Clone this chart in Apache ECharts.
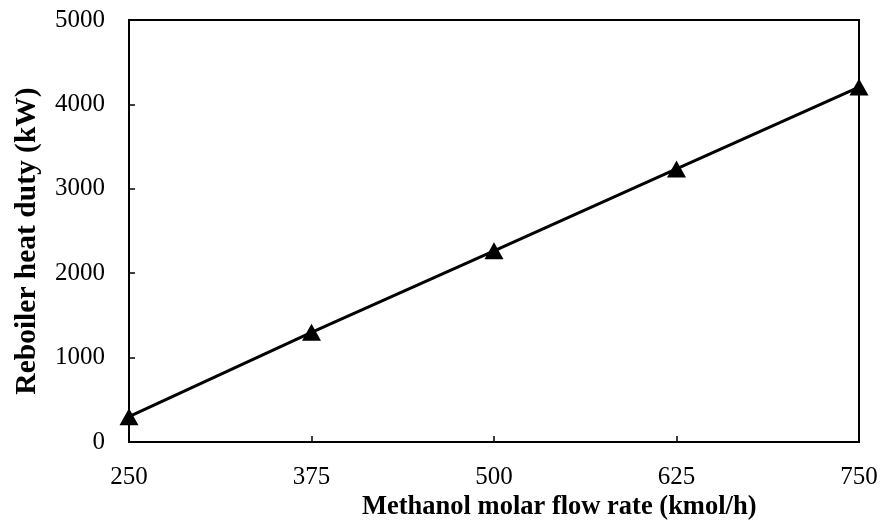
<!DOCTYPE html>
<html><head><meta charset="utf-8">
<script src="https://cdn.jsdelivr.net/npm/echarts@6/dist/echarts.min.js"></script>
<style>html,body{margin:0;padding:0;background:#fff}#c{width:884px;height:525px}</style>
</head><body><div id="c"></div>
<script>
const flowRates = [250, 375, 500, 625, 750];
const heatDuty = [300, 1300, 2265, 3235, 4205];
const xTicks = [250, 375, 500, 625, 750];
const yTicks = [0, 1000, 2000, 3000, 4000, 5000];
const xTitle = 'Methanol molar flow rate (kmol/h)';
const yTitle = 'Reboiler heat duty (kW)';

const font = '"Liberation Serif", "Times New Roman", serif';
const chart = echarts.init(document.getElementById('c'));
chart.setOption({
  animation: false,
  backgroundColor: '#fff',
  grid: {left: 129, right: 25, top: 20, bottom: 83, containLabel: false, outerBoundsMode: 'none',
         show: true, borderColor: '#000', borderWidth: 2},
  xAxis: {
    type: 'value', min: xTicks[0], max: xTicks[xTicks.length - 1], interval: 125,
    axisLine: {show: true, lineStyle: {color: '#000', width: 2}},
    axisTick: {show: true, inside: true, length: 6, lineStyle: {color: '#000', width: 1.5}},
    axisLabel: {color: '#000', fontFamily: font, fontSize: 25, margin: 23, formatter: v => String(v)},
    splitLine: {show: false}
  },
  yAxis: {
    type: 'value', min: yTicks[0], max: yTicks[yTicks.length - 1], interval: 1000,
    axisLine: {show: true, lineStyle: {color: '#000', width: 2}},
    axisTick: {show: true, inside: true, length: 6, lineStyle: {color: '#000', width: 1.5}},
    axisLabel: {color: '#000', fontFamily: font, fontSize: 25, margin: 24, formatter: v => String(v)},
    splitLine: {show: false}
  },
  graphic: [{
    type: 'text', left: 362, top: 494,
    style: {text: xTitle, fill: '#000', font: 'bold 26.5px ' + font}
  }, {
    type: 'text', x: 27, y: 241, rotation: Math.PI / 2,
    style: {text: yTitle, fill: '#000', font: 'bold 29.5px ' + font, align: 'center', verticalAlign: 'middle'}
  }],
  series: [{
    type: 'line',
    data: flowRates.map((x, i) => [x, heatDuty[i]]),
    symbol: 'triangle', symbolSize: [19, 17],
    itemStyle: {color: '#000'},
    lineStyle: {color: '#000', width: 3},
    clip: false
  }]
});
</script></body></html>
